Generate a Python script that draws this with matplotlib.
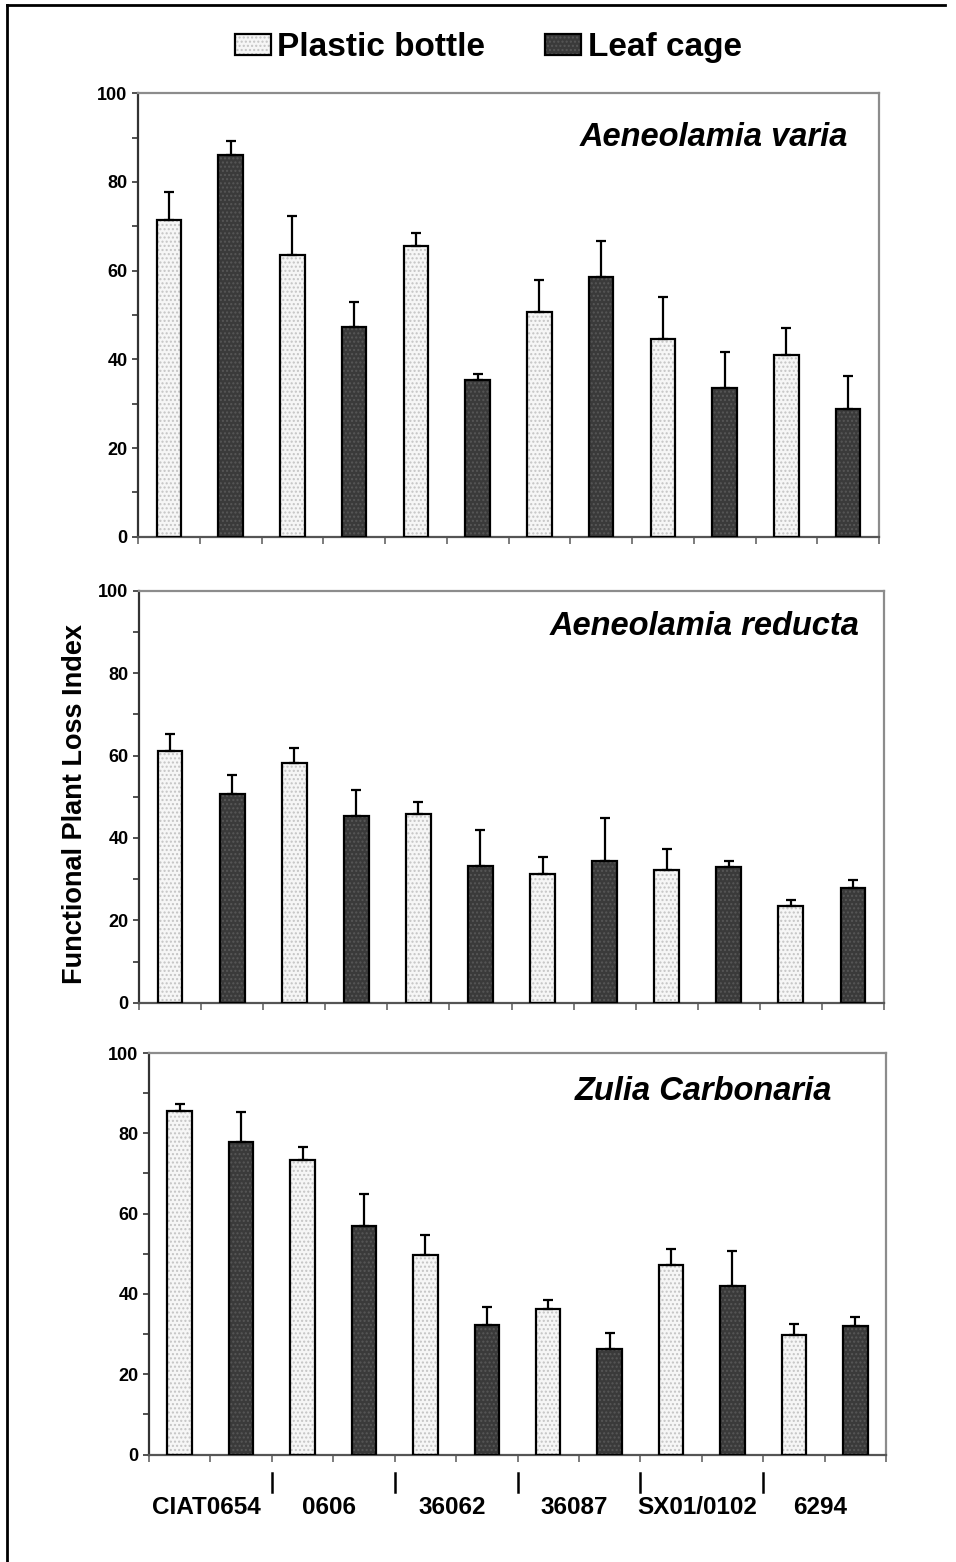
import matplotlib
matplotlib.use("Agg")
import matplotlib.pyplot as plt
import numpy as np
from matplotlib.patches import Rectangle
from matplotlib.lines import Line2D
from matplotlib.ticker import MultipleLocator
import matplotlib.transforms as mtransforms

plt.rcParams['font.family'] = ['Liberation Sans', 'DejaVu Sans']
plt.rcParams['hatch.linewidth'] = 1.0

# ---- data -------------------------------------------------------------
genotypes = ["CIAT0654", "0606", "36062", "36087", "SX01/0102", "6294"]
series_names = ["Plastic bottle", "Leaf cage"]
species = ["Aeneolamia varia", "Aeneolamia reducta", "Zulia Carbonaria"]

varia_bottle = [71.5, 63.6, 65.5, 50.7, 44.6, 41.0]
varia_bottle_err = [6.2, 8.8, 3.0, 7.2, 9.5, 6.0]
varia_cage = [86.0, 47.3, 35.3, 58.6, 33.5, 28.8]
varia_cage_err = [3.3, 5.6, 1.4, 8.1, 8.2, 7.4]

reducta_bottle = [61.2, 58.2, 45.7, 31.3, 32.3, 23.4]
reducta_bottle_err = [3.9, 3.5, 3.1, 4.1, 5.1, 1.5]
reducta_cage = [50.7, 45.3, 33.3, 34.3, 32.9, 27.8]
reducta_cage_err = [4.6, 6.4, 8.6, 10.5, 1.4, 2.0]

carbonaria_bottle = [85.5, 73.3, 49.8, 36.2, 47.2, 29.8]
carbonaria_bottle_err = [1.8, 3.3, 4.8, 2.3, 3.9, 2.6]
carbonaria_cage = [77.8, 56.9, 32.3, 26.3, 42.0, 31.9]
carbonaria_cage_err = [7.5, 7.9, 4.4, 3.9, 8.6, 2.3]

y_ticks = [0, 20, 40, 60, 80, 100]

panels = [
    (varia_bottle, varia_bottle_err, varia_cage, varia_cage_err),
    (reducta_bottle, reducta_bottle_err, reducta_cage, reducta_cage_err),
    (carbonaria_bottle, carbonaria_bottle_err, carbonaria_cage, carbonaria_cage_err),
]

# ---- styling ----------------------------------------------------------
W, H = 956, 1562
fig = plt.figure(figsize=(W / 100, H / 100), dpi=100)

bottle_face, bottle_dots = "#f6f6f6", "#c4c4c4"
cage_face, cage_dots = "#3a3a3a", "#575757"

# axes boxes in pixels: left, right, top, bottom
boxes = [(138, 879, 93.3, 536.7),
         (139, 884, 590.7, 1002.7),
         (149, 886, 1053, 1454.5)]
title_pos = [(31, 53), (24, 44), (54, 47)]  # right inset, baseline offset (px)


def px_axes(l, r, t, b):
    return fig.add_axes([l / W, (H - b) / H, (r - l) / W, (b - t) / H])


def draw_bars(ax, x, vals, errs, face, dots):
    ax.bar(x, vals, width=0.4, color=face, edgecolor=dots, hatch="....",
           linewidth=0, zorder=2)
    ax.bar(x, vals, width=0.4, fill=False, edgecolor="black",
           linewidth=1.6, zorder=3)
    ax.errorbar(x, vals, yerr=[np.zeros(len(vals)), errs], fmt="none",
                ecolor="black", elinewidth=1.6, capsize=3.6, capthick=1.6,
                zorder=4)


n = len(genotypes)
x_bottle = np.arange(n) * 2 + 0.5
x_cage = np.arange(n) * 2 + 1.5

axes = []
for i, ((bv, be, cv, ce), (l, r, t, b)) in enumerate(zip(panels, boxes)):
    ax = px_axes(l, r, t, b)
    axes.append(ax)
    draw_bars(ax, x_bottle, bv, be, bottle_face, bottle_dots)
    draw_bars(ax, x_cage, cv, ce, cage_face, cage_dots)
    ax.set_xlim(0, 2 * n)
    ax.set_ylim(0, 100)
    ax.set_yticks(y_ticks)
    ax.set_yticklabels([str(v) for v in y_ticks], fontweight="bold",
                       fontsize=13)
    ax.yaxis.set_minor_locator(MultipleLocator(10))
    ax.set_xticks(np.arange(0, 2 * n + 1))
    ax.set_xticklabels([])
    ax.tick_params(axis="y", which="both", direction="out", length=4.5,
                   width=1.2, color="#333333", pad=3)
    ax.tick_params(axis="x", which="major", direction="out", length=5,
                   width=1.2, color="#666666")
    ax.spines["left"].set_color("#333333")
    ax.spines["left"].set_linewidth(1.6)
    ax.spines["bottom"].set_color("#555555")
    ax.spines["bottom"].set_linewidth(1.6)
    for s in ("top", "right"):
        ax.spines[s].set_color("#8c8c8c")
        ax.spines[s].set_linewidth(1.6)
    inset, base = title_pos[i]
    ax.text(1 - inset / (r - l), 1 - base / (b - t), species[i],
            transform=ax.transAxes, ha="right", va="baseline",
            fontsize=23.5, fontweight="bold", fontstyle="italic")

# genotype labels and group separators under the last panel
ax = axes[-1]
l, r, t, b = boxes[-1]
ah = b - t
trans = mtransforms.blended_transform_factory(ax.transData, ax.transAxes)
for k in range(1, n):
    ax.plot([2 * k, 2 * k], [-(1473 - b) / ah, -(1492 - b) / ah],
            color="black", lw=1.8, transform=trans, clip_on=False)
for k, g in enumerate(genotypes):
    ax.text(2 * k + 1 - 0.07, -(1507 - b) / ah, g, transform=trans,
            ha="center", va="center", fontsize=17.5, fontweight="bold")

# shared y label
fig.text(75 / W, 1 - 804.5 / H, "Functional Plant Loss Index", rotation=90,
         ha="center", va="center", fontsize=19.5, fontweight="bold")

# legend
legend_items = [(235, 277, series_names[0], bottle_face, bottle_dots),
                (545, 588, series_names[1], cage_face, cage_dots)]
for bx, tx, name, face, dots in legend_items:
    for kw in (dict(facecolor=face, edgecolor=dots, hatch="....", lw=0),
               dict(fill=False, edgecolor="black", lw=1.6)):
        fig.add_artist(Rectangle((bx / W, 1 - 55 / H), 36 / W, 21 / H,
                                 transform=fig.transFigure, **kw))
    fig.text(tx / W, 1 - 56 / H, name, ha="left", va="baseline",
             fontsize=24, fontweight="bold")

# outer frame (left and top edges)
fig.add_artist(Line2D([7 / W, 7 / W], [0, 1 - 5 / H], color="black", lw=2,
                      transform=fig.transFigure))
fig.add_artist(Line2D([7 / W, 945 / W], [1 - 5 / H, 1 - 5 / H],
                      color="black", lw=2, transform=fig.transFigure))

fig.savefig("out.png", dpi=100)
